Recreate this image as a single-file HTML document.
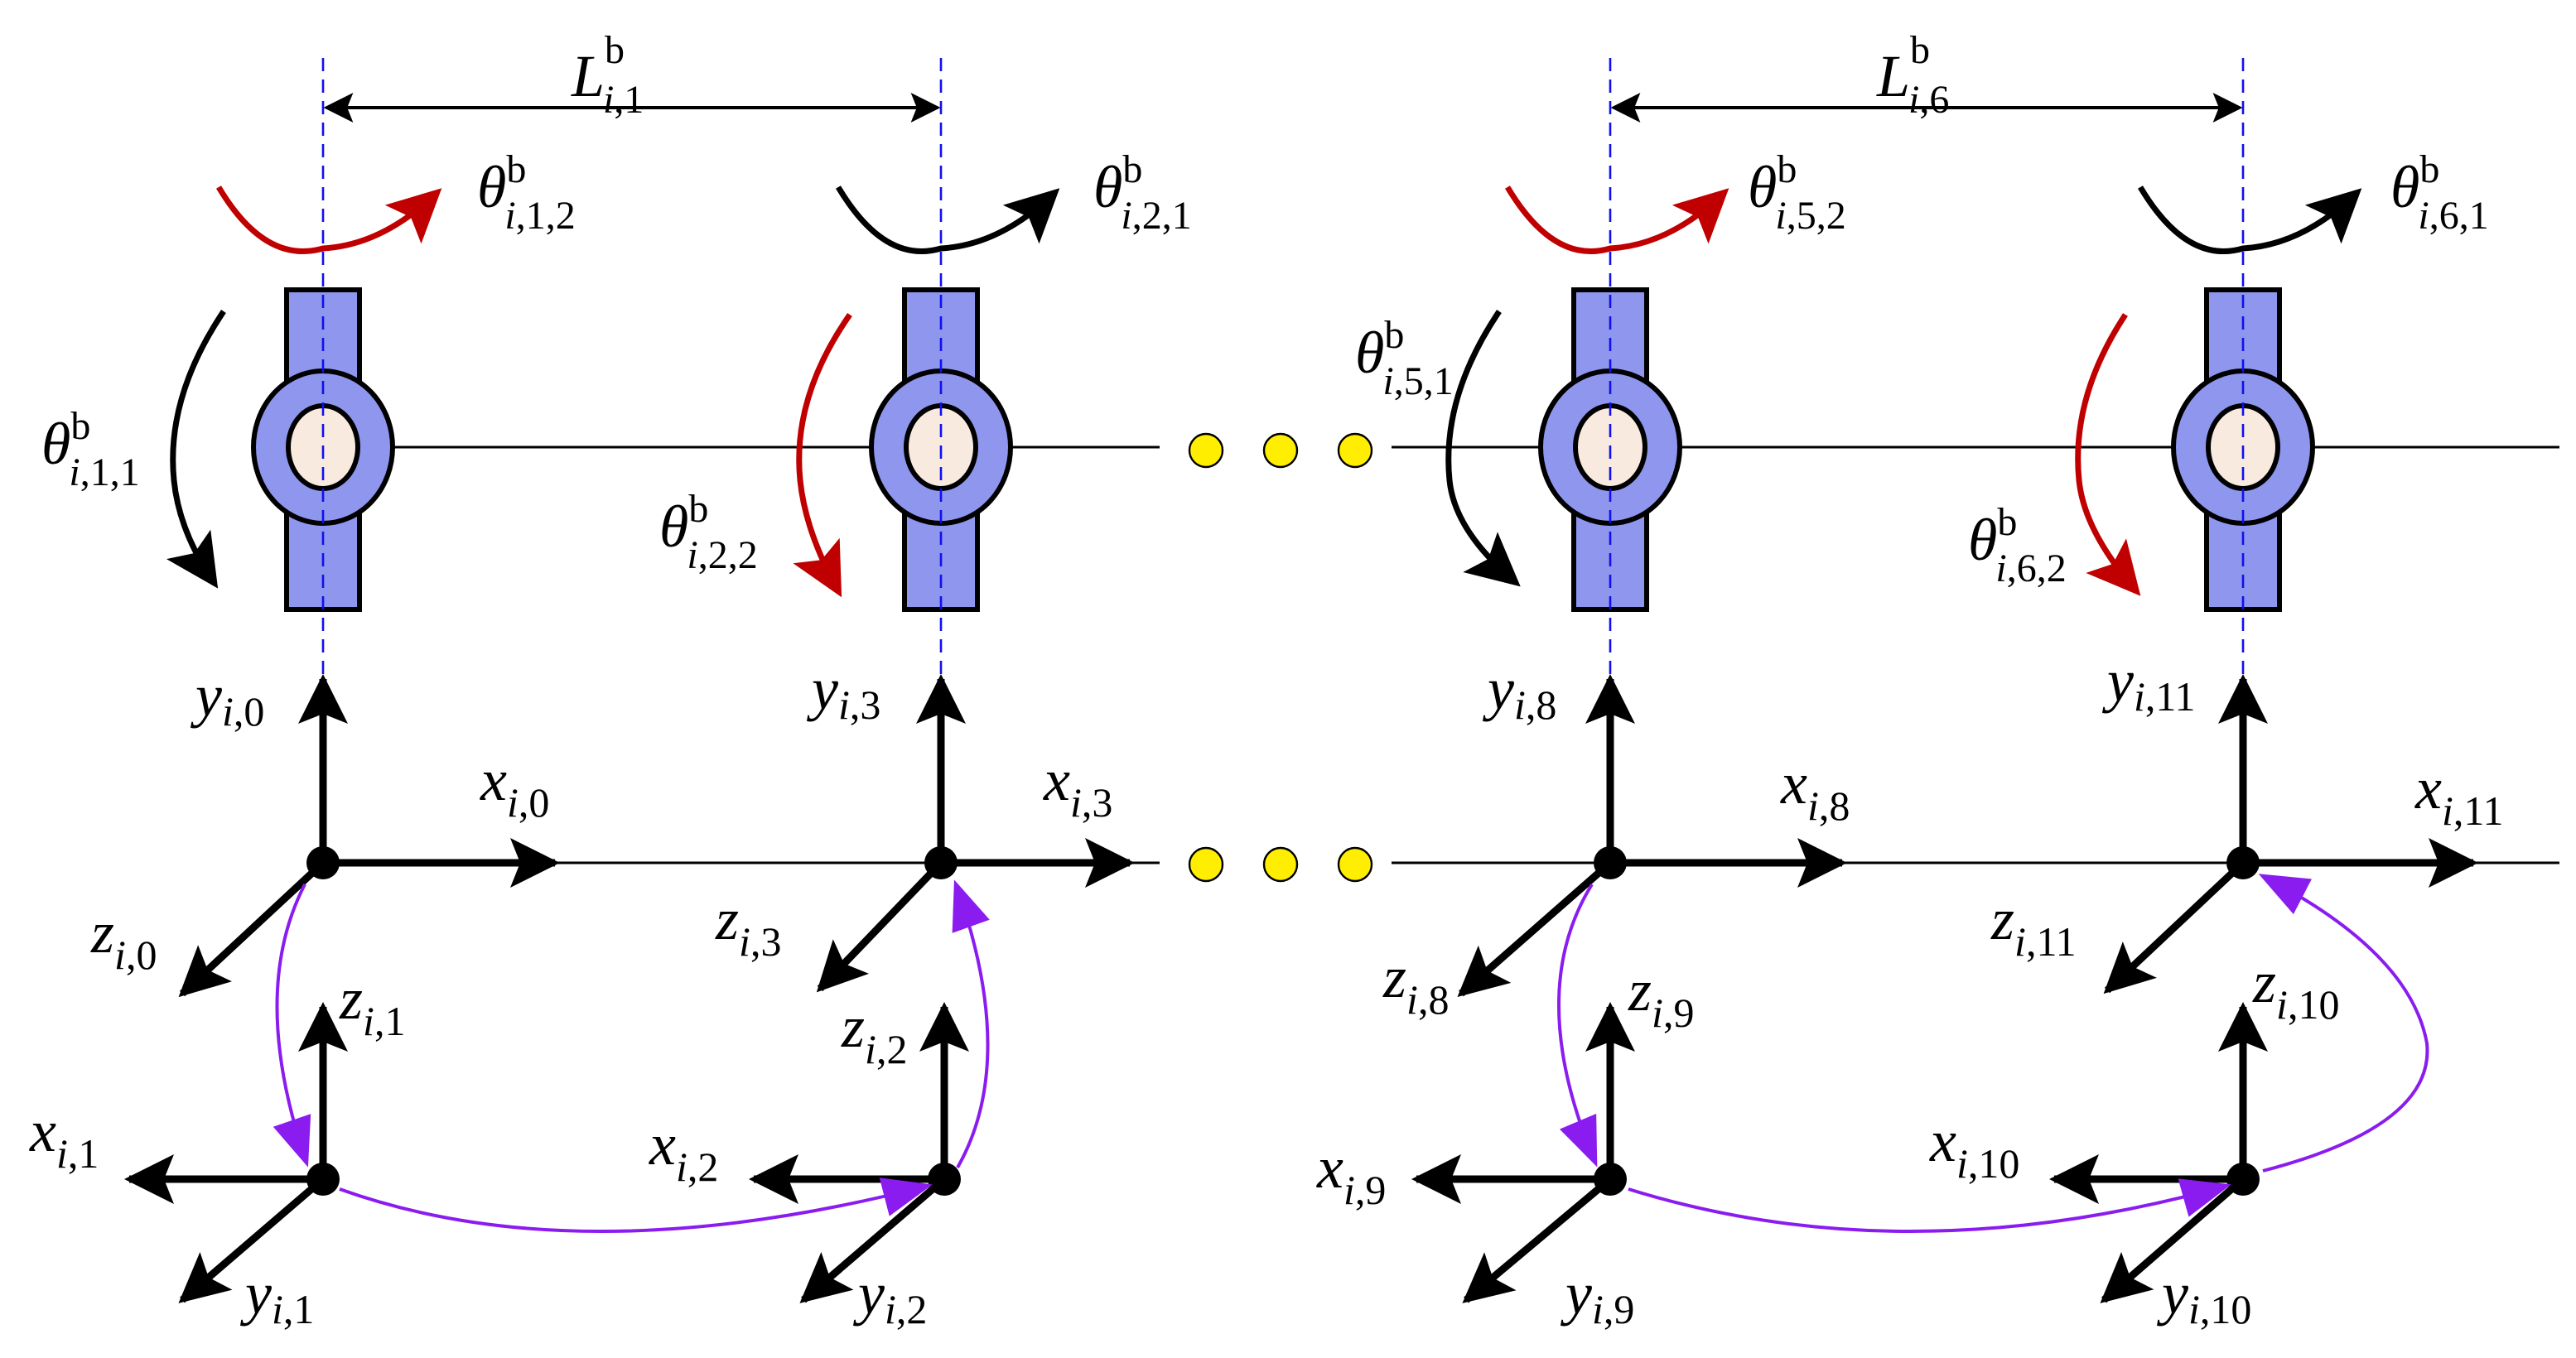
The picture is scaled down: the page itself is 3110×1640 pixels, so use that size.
<!DOCTYPE html>
<html><head><meta charset="utf-8"><style>
html,body{margin:0;padding:0;background:#fff}
svg{display:block}
text{font-family:"Liberation Serif",serif;font-style:italic;fill:#000}
.s{font-style:normal}
</style></head><body>
<svg width="3110" height="1640" viewBox="0 0 1555 820" xmlns="http://www.w3.org/2000/svg">
<defs>
<marker id="ab" viewBox="0 0 10 10" refX="9" refY="5" markerWidth="18" markerHeight="18" orient="auto-start-reverse" markerUnits="userSpaceOnUse"><path d="M0,0 L10,5 L0,10 L2,5z" fill="#000"/></marker>
<marker id="ak" viewBox="0 0 10 10" refX="8" refY="5" markerWidth="32" markerHeight="32" orient="auto" markerUnits="userSpaceOnUse"><path d="M0,0 L10,5 L0,10 L2,5z" fill="#000"/></marker>
<marker id="ar" viewBox="0 0 10 10" refX="8" refY="5" markerWidth="32" markerHeight="32" orient="auto" markerUnits="userSpaceOnUse"><path d="M0,0 L10,5 L0,10 L2,5z" fill="#c00000"/></marker>
<marker id="ad" viewBox="0 0 10 10" refX="9" refY="5" markerWidth="30" markerHeight="30" orient="auto" markerUnits="userSpaceOnUse"><path d="M0,0 L10,5 L0,10 L2,5z" fill="#000"/></marker>
<marker id="ap" viewBox="0 0 10 10" refX="9" refY="5" markerWidth="30" markerHeight="30" orient="auto" markerUnits="userSpaceOnUse"><path d="M0,1 L10,5 L0,9z" fill="#8a1cf0"/></marker>
</defs>
<g stroke="#000" stroke-width="1.5">
<line x1="195" y1="270" x2="700" y2="270"/><line x1="840" y1="270" x2="1545" y2="270"/>
<line x1="195" y1="521" x2="700" y2="521"/><line x1="840" y1="521" x2="1545" y2="521"/>
</g>
<g fill="#ffee00" stroke="#000" stroke-width="1.2">
<circle cx="728" cy="272" r="10"/><circle cx="773" cy="272" r="10"/><circle cx="818" cy="272" r="10"/>
<circle cx="728" cy="522" r="10"/><circle cx="773" cy="522" r="10"/><circle cx="818" cy="522" r="10"/>
</g>
<g stroke="#000" stroke-width="2">
<line x1="197" y1="65" x2="566" y2="65" marker-start="url(#ab)" marker-end="url(#ab)"/>
<line x1="974" y1="65" x2="1352" y2="65" marker-start="url(#ab)" marker-end="url(#ab)"/>
</g>
<g stroke="#000" stroke-width="3">
<g id="j"><rect x="173" y="175" width="44" height="193" fill="#8f96ee"/><ellipse cx="195" cy="270" rx="42" ry="46" fill="#8f96ee"/><ellipse cx="195" cy="270" rx="21" ry="25" fill="#f8eadf"/></g>
<use href="#j" x="373"/><use href="#j" x="777"/><use href="#j" x="1159"/>
</g>
<g stroke="#1010ee" stroke-width="1.3" stroke-dasharray="8,5">
<line x1="195" y1="35" x2="195" y2="420"/><line x1="568" y1="35" x2="568" y2="420"/>
<line x1="972" y1="35" x2="972" y2="420"/><line x1="1354" y1="35" x2="1354" y2="420"/>
</g>
<g fill="none" stroke-width="3.5">
<path d="M132,113 Q160,160 195,150 Q230,148 262,118" stroke="#c00000" marker-end="url(#ar)"/>
<path d="M506,113 Q534,160 568,150 Q603,148 635,118" stroke="#000" marker-end="url(#ak)"/>
<path d="M910,113 Q938,160 972,150 Q1007,148 1039,118" stroke="#c00000" marker-end="url(#ar)"/>
<path d="M1292,113 Q1320,160 1354,150 Q1389,148 1421,118" stroke="#000" marker-end="url(#ak)"/>
<path d="M135,188 Q100,240 105,290 Q108,320 128,350" stroke="#000" marker-end="url(#ak)"/>
<path d="M513,190 Q478,240 483,290 Q486,320 505,355" stroke="#c00000" marker-end="url(#ar)"/>
<path d="M905,188 Q870,240 875,290 Q878,320 913,350" stroke="#000" marker-end="url(#ak)"/>
<path d="M1283,190 Q1250,240 1255,290 Q1258,320 1288,355" stroke="#c00000" marker-end="url(#ar)"/>
</g>
<g stroke="#000" stroke-width="4.5" fill="none">
<line x1="195" y1="521" x2="195" y2="410" marker-end="url(#ad)"/><line x1="195" y1="521" x2="335" y2="521" marker-end="url(#ad)"/><line x1="195" y1="521" x2="110" y2="600" marker-end="url(#ad)"/>
<line x1="568" y1="521" x2="568" y2="410" marker-end="url(#ad)"/><line x1="568" y1="521" x2="682" y2="521" marker-end="url(#ad)"/><line x1="568" y1="521" x2="495" y2="597" marker-end="url(#ad)"/>
<line x1="972" y1="521" x2="972" y2="410" marker-end="url(#ad)"/><line x1="972" y1="521" x2="1112" y2="521" marker-end="url(#ad)"/><line x1="972" y1="521" x2="882" y2="600" marker-end="url(#ad)"/>
<line x1="1354" y1="521" x2="1354" y2="410" marker-end="url(#ad)"/><line x1="1354" y1="521" x2="1493" y2="521" marker-end="url(#ad)"/><line x1="1354" y1="521" x2="1272" y2="598" marker-end="url(#ad)"/>
<line x1="195" y1="712" x2="195" y2="608" marker-end="url(#ad)"/><line x1="195" y1="712" x2="78" y2="712" marker-end="url(#ad)"/><line x1="195" y1="712" x2="110" y2="785" marker-end="url(#ad)"/>
<line x1="570" y1="712" x2="570" y2="608" marker-end="url(#ad)"/><line x1="570" y1="712" x2="455" y2="712" marker-end="url(#ad)"/><line x1="570" y1="712" x2="485" y2="785" marker-end="url(#ad)"/>
<line x1="972" y1="712" x2="972" y2="608" marker-end="url(#ad)"/><line x1="972" y1="712" x2="855" y2="712" marker-end="url(#ad)"/><line x1="972" y1="712" x2="885" y2="785" marker-end="url(#ad)"/>
<line x1="1354" y1="712" x2="1354" y2="608" marker-end="url(#ad)"/><line x1="1354" y1="712" x2="1240" y2="712" marker-end="url(#ad)"/><line x1="1354" y1="712" x2="1270" y2="785" marker-end="url(#ad)"/>
</g>
<g fill="#000">
<circle cx="195" cy="521" r="10"/><circle cx="568" cy="521" r="10"/><circle cx="972" cy="521" r="10"/><circle cx="1354" cy="521" r="10"/>
<circle cx="195" cy="712" r="10"/><circle cx="570" cy="712" r="10"/><circle cx="972" cy="712" r="10"/><circle cx="1354" cy="712" r="10"/>
</g>
<g stroke="#8a1cf0" stroke-width="2" fill="none">
<path d="M184,534 Q150,600 185,702" marker-end="url(#ap)"/>
<path d="M205,718 Q350,770 560,716" marker-end="url(#ap)"/>
<path d="M578,705 Q615,640 577,534" marker-end="url(#ap)"/>
<path d="M961,534 Q920,600 963,702" marker-end="url(#ap)"/>
<path d="M983,718 Q1150,770 1344,716" marker-end="url(#ap)"/>
<path d="M1366,707 Q1470,680 1465,630 Q1455,575 1366,529" marker-end="url(#ap)"/>
</g>
<g font-size="36">
<text x="345" y="58">L<tspan class="s" font-size="24" dy="-20">b</tspan><tspan font-size="24" dx="-13" dy="30">i</tspan><tspan class="s" font-size="24">,1</tspan></text>
<text x="1133" y="58">L<tspan class="s" font-size="24" dy="-20">b</tspan><tspan font-size="24" dx="-13" dy="30">i</tspan><tspan class="s" font-size="24">,6</tspan></text>
</g>
<g font-size="36">
<text x="288" y="125">θ<tspan class="s" font-size="24" dy="-15">b</tspan><tspan font-size="24" dx="-13" dy="28">i</tspan><tspan class="s" font-size="24">,1,2</tspan></text>
<text x="660" y="125">θ<tspan class="s" font-size="24" dy="-15">b</tspan><tspan font-size="24" dx="-13" dy="28">i</tspan><tspan class="s" font-size="24">,2,1</tspan></text>
<text x="1055" y="125">θ<tspan class="s" font-size="24" dy="-15">b</tspan><tspan font-size="24" dx="-13" dy="28">i</tspan><tspan class="s" font-size="24">,5,2</tspan></text>
<text x="1443" y="125">θ<tspan class="s" font-size="24" dy="-15">b</tspan><tspan font-size="24" dx="-13" dy="28">i</tspan><tspan class="s" font-size="24">,6,1</tspan></text>
<text x="25" y="280">θ<tspan class="s" font-size="24" dy="-15">b</tspan><tspan font-size="24" dx="-13" dy="28">i</tspan><tspan class="s" font-size="24">,1,1</tspan></text>
<text x="398" y="330">θ<tspan class="s" font-size="24" dy="-15">b</tspan><tspan font-size="24" dx="-13" dy="28">i</tspan><tspan class="s" font-size="24">,2,2</tspan></text>
<text x="818" y="225">θ<tspan class="s" font-size="24" dy="-15">b</tspan><tspan font-size="24" dx="-13" dy="28">i</tspan><tspan class="s" font-size="24">,5,1</tspan></text>
<text x="1188" y="338">θ<tspan class="s" font-size="24" dy="-15">b</tspan><tspan font-size="24" dx="-13" dy="28">i</tspan><tspan class="s" font-size="24">,6,2</tspan></text>
</g>
<g font-size="36">
<text x="118" y="432">y<tspan font-size="25" dy="6">i</tspan><tspan class="s" font-size="25">,0</tspan></text>
<text x="290" y="483">x<tspan font-size="25" dy="10">i</tspan><tspan class="s" font-size="25">,0</tspan></text>
<text x="55" y="575">z<tspan font-size="25" dy="10">i</tspan><tspan class="s" font-size="25">,0</tspan></text>
<text x="490" y="428">y<tspan font-size="25" dy="6">i</tspan><tspan class="s" font-size="25">,3</tspan></text>
<text x="630" y="483">x<tspan font-size="25" dy="10">i</tspan><tspan class="s" font-size="25">,3</tspan></text>
<text x="432" y="567">z<tspan font-size="25" dy="10">i</tspan><tspan class="s" font-size="25">,3</tspan></text>
<text x="898" y="428">y<tspan font-size="25" dy="6">i</tspan><tspan class="s" font-size="25">,8</tspan></text>
<text x="1075" y="485">x<tspan font-size="25" dy="10">i</tspan><tspan class="s" font-size="25">,8</tspan></text>
<text x="835" y="602">z<tspan font-size="25" dy="10">i</tspan><tspan class="s" font-size="25">,8</tspan></text>
<text x="1272" y="423">y<tspan font-size="25" dy="6">i</tspan><tspan class="s" font-size="25">,11</tspan></text>
<text x="1458" y="488">x<tspan font-size="25" dy="10">i</tspan><tspan class="s" font-size="25">,11</tspan></text>
<text x="1202" y="567">z<tspan font-size="25" dy="10">i</tspan><tspan class="s" font-size="25">,11</tspan></text>
<text x="205" y="615">z<tspan font-size="25" dy="10">i</tspan><tspan class="s" font-size="25">,1</tspan></text>
<text x="18" y="695">x<tspan font-size="25" dy="10">i</tspan><tspan class="s" font-size="25">,1</tspan></text>
<text x="148" y="793">y<tspan font-size="25" dy="6">i</tspan><tspan class="s" font-size="25">,1</tspan></text>
<text x="508" y="632">z<tspan font-size="25" dy="10">i</tspan><tspan class="s" font-size="25">,2</tspan></text>
<text x="392" y="703">x<tspan font-size="25" dy="10">i</tspan><tspan class="s" font-size="25">,2</tspan></text>
<text x="518" y="793">y<tspan font-size="25" dy="6">i</tspan><tspan class="s" font-size="25">,2</tspan></text>
<text x="983" y="610">z<tspan font-size="25" dy="10">i</tspan><tspan class="s" font-size="25">,9</tspan></text>
<text x="795" y="717">x<tspan font-size="25" dy="10">i</tspan><tspan class="s" font-size="25">,9</tspan></text>
<text x="945" y="793">y<tspan font-size="25" dy="6">i</tspan><tspan class="s" font-size="25">,9</tspan></text>
<text x="1360" y="605">z<tspan font-size="25" dy="10">i</tspan><tspan class="s" font-size="25">,10</tspan></text>
<text x="1165" y="701">x<tspan font-size="25" dy="10">i</tspan><tspan class="s" font-size="25">,10</tspan></text>
<text x="1305" y="793">y<tspan font-size="25" dy="6">i</tspan><tspan class="s" font-size="25">,10</tspan></text>
</g>
</svg>
</body></html>
